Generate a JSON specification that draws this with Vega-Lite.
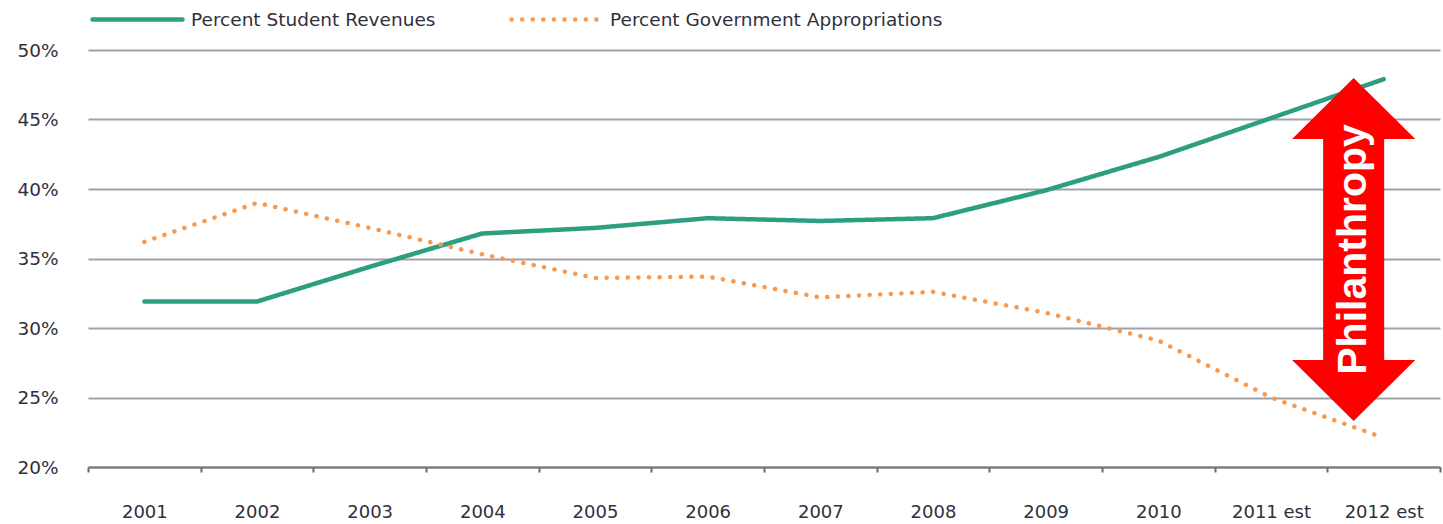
{
  "$schema": "https://vega.github.io/schema/vega-lite/v6.json",
  "width": 1352,
  "height": 417,
  "autosize": {"type": "none"},
  "padding": {"left": 88, "top": 50, "right": 3, "bottom": 57},
  "background": "white",
  "config": {"view": {"stroke": null}, "font": "DejaVu Sans"},
  "datasets": {
    "series": [
      {"year": "2001", "series": "Percent Student Revenues", "value": 0.319},
      {"year": "2002", "series": "Percent Student Revenues", "value": 0.319},
      {"year": "2003", "series": "Percent Student Revenues", "value": 0.344},
      {"year": "2004", "series": "Percent Student Revenues", "value": 0.368},
      {"year": "2005", "series": "Percent Student Revenues", "value": 0.372},
      {"year": "2006", "series": "Percent Student Revenues", "value": 0.379},
      {"year": "2007", "series": "Percent Student Revenues", "value": 0.377},
      {"year": "2008", "series": "Percent Student Revenues", "value": 0.379},
      {"year": "2009", "series": "Percent Student Revenues", "value": 0.399},
      {"year": "2010", "series": "Percent Student Revenues", "value": 0.423},
      {"year": "2011 est", "series": "Percent Student Revenues", "value": 0.451},
      {"year": "2012 est", "series": "Percent Student Revenues", "value": 0.479},
      {"year": "2001", "series": "Percent Government Appropriations", "value": 0.362},
      {"year": "2002", "series": "Percent Government Appropriations", "value": 0.390},
      {"year": "2003", "series": "Percent Government Appropriations", "value": 0.372},
      {"year": "2004", "series": "Percent Government Appropriations", "value": 0.353},
      {"year": "2005", "series": "Percent Government Appropriations", "value": 0.336},
      {"year": "2006", "series": "Percent Government Appropriations", "value": 0.337},
      {"year": "2007", "series": "Percent Government Appropriations", "value": 0.322},
      {"year": "2008", "series": "Percent Government Appropriations", "value": 0.326},
      {"year": "2009", "series": "Percent Government Appropriations", "value": 0.311},
      {"year": "2010", "series": "Percent Government Appropriations", "value": 0.291},
      {"year": "2011 est", "series": "Percent Government Appropriations", "value": 0.250},
      {"year": "2012 est", "series": "Percent Government Appropriations", "value": 0.221}
    ],
    "annotation": [
      {"year": "2012 est", "value": 0.3565, "label": "Philanthropy"}
    ]
  },
  "layer": [
    {
      "data": {"name": "series"},
      "mark": {"type": "line", "strokeWidth": 4.5, "strokeCap": "round", "strokeJoin": "round"},
      "encoding": {
        "x": {
          "field": "year", "type": "ordinal", "sort": null,
          "scale": {"type": "band", "paddingInner": 0, "paddingOuter": 0},
          "axis": {
            "title": null, "labelAngle": 0, "tickBand": "extent",
            "domainColor": "#777777", "domainWidth": 2,
            "tickColor": "#666666", "tickWidth": 2, "tickSize": 5,
            "labelFont": "DejaVu Sans", "labelFontSize": 18, "labelColor": "#30303c",
            "labelPadding": 31, "labelBaseline": "top", "grid": false
          }
        },
        "y": {
          "field": "value", "type": "quantitative",
          "scale": {"domain": [0.2, 0.5], "nice": false, "zero": false},
          "axis": {
            "title": null, "format": ".0%", "values": [0.2, 0.25, 0.3, 0.35, 0.4, 0.45, 0.5],
            "domain": false, "ticks": false, "tickSize": 0,
            "grid": true, "gridColor": "#a0a0aa", "gridWidth": 2,
            "labelFont": "DejaVu Sans", "labelFontSize": 18.5, "labelColor": "#30303c",
            "labelPadding": 30
          }
        },
        "color": {
          "field": "series", "type": "nominal",
          "scale": {"domain": ["Percent Student Revenues", "Percent Government Appropriations"], "range": ["#2e9e80", "#f79a4f"]},
          "legend": {
            "title": null, "orient": "none", "direction": "horizontal",
            "legendX": 2, "legendY": -78, "padding": 0,
            "symbolType": "stroke", "symbolSize": 8100, "symbolStrokeWidth": 4.5,
            "labelFont": "DejaVu Sans", "labelFontSize": 18.5, "labelColor": "#30303c",
            "labelOffset": 6, "labelLimit": 600, "columnPadding": 66,
            "encode": {"symbols": {"update": {"strokeCap": {"value": "round"}}}}
          }
        },
        "strokeDash": {
          "field": "series", "type": "nominal",
          "scale": {"domain": ["Percent Student Revenues", "Percent Government Appropriations"], "range": [[1, 0], [0.1, 10.5]]},
          "legend": {
            "title": null, "orient": "none", "direction": "horizontal",
            "legendX": 2, "legendY": -78, "padding": 0,
            "symbolType": "stroke", "symbolSize": 8100, "symbolStrokeWidth": 4.5,
            "labelFont": "DejaVu Sans", "labelFontSize": 18.5, "labelColor": "#30303c",
            "labelOffset": 6, "labelLimit": 600, "columnPadding": 66,
            "encode": {"symbols": {"update": {"strokeCap": {"value": "round"}}}}
          }
        }
      }
    },
    {
      "data": {"name": "annotation"},
      "mark": {
        "type": "point", "filled": true, "color": "#ff0000", "opacity": 1, "xOffset": -30,
        "shape": "M0,-1 L0.359,-0.644 L0.178,-0.644 L0.178,0.644 L0.359,0.644 L0,1 L-0.359,0.644 L-0.178,0.644 L-0.178,-0.644 L-0.359,-0.644 Z",
        "size": 117649
      },
      "encoding": {
        "x": {"field": "year", "type": "ordinal", "sort": null},
        "y": {"field": "value", "type": "quantitative"}
      }
    },
    {
      "data": {"name": "annotation"},
      "mark": {
        "type": "text", "angle": 270, "align": "center", "baseline": "middle",
        "xOffset": -30, "color": "white", "font": "Liberation Sans", "fontWeight": "bold", "fontSize": 41
      },
      "encoding": {
        "x": {"field": "year", "type": "ordinal", "sort": null},
        "y": {"field": "value", "type": "quantitative"},
        "text": {"field": "label"}
      }
    }
  ]
}
